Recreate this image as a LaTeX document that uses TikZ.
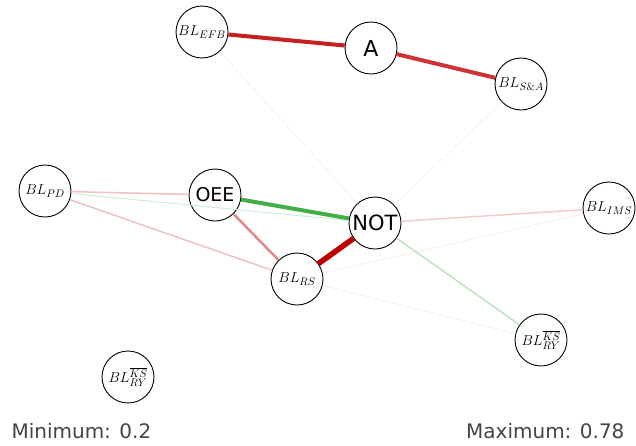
\documentclass[tikz,border=0pt]{standalone}
\usepackage{fontspec}
\newfontfamily\labfont{DejaVu Sans}
\DeclareMathSizes{13.5}{13.5}{10.8}{8.5}

\definecolor{redA}{RGB}{198,32,32}
\definecolor{redB}{RGB}{206,52,52}
\definecolor{redC}{RGB}{192,0,0}
\definecolor{redD}{RGB}{226,136,136}
\definecolor{redE}{RGB}{241,192,192}
\definecolor{redF}{RGB}{243,204,204}
\definecolor{redG}{RGB}{251,238,238}
\definecolor{grnA}{RGB}{68,176,68}
\definecolor{grnB}{RGB}{190,226,190}
\definecolor{grnC}{RGB}{212,236,212}
\definecolor{faint}{RGB}{244,244,244}
\definecolor{legend}{RGB}{68,68,68}

\tikzset{
	var/.style={circle,draw,line width=0.9pt,fill=white,minimum size=52pt,inner sep=0pt},
	bl/.style={var,font=\fontsize{13.5}{16}\selectfont},
	big/.style={var,font=\labfont\fontsize{#1}{#1}\selectfont},
	wt/.style={line width=#1}
}

\begin{document}
\begin{tikzpicture}[x=1pt,y=-1pt]

	\useasboundingbox (0,0) rectangle (636,445);

	% variables
	\node[bl] (efb) at (202,32) {$BL_{EFB}$};
	\node[big=22] (a) at (371,48) {A};
	\node[bl] (sa) at (521,84) {$BL_{S\&A}$};
	\node[bl] (pd) at (45,191) {$BL_{PD}$};
	\node[big=19] (oee) at (215,195) {OEE};
	\node[big=21] (not) at (375,223) {NOT};
	\node[bl] (ims) at (609,208) {$BL_{IMS}$};
	\node[bl] (rs) at (297,279) {$BL_{RS}$};
	\node[bl] (ksr) at (541,340) {$BL^{\overline{KS}}_{RY}$};
	\node[bl] (ksl) at (128,377) {$BL^{\overline{KS}}_{RY}$};

	% faint ones first
	\draw[faint,wt=1pt] (efb) -- (not);
	\draw[faint,wt=1pt] (sa) -- (not);
	\draw[redG,wt=1pt] (rs) -- (ims);
	\draw[redG,wt=1pt] (rs) -- (ksr);
	\draw[grnC,wt=1pt] (pd) -- (not);
	\draw[redE,wt=1.5pt] (pd) -- (oee);
	\draw[redE,wt=1.5pt] (pd) -- (rs);
	\draw[redF,wt=1.5pt] (not) -- (ims);
	\draw[grnB,wt=1.5pt] (not) -- (ksr);
	\draw[redD,wt=2.5pt] (oee) -- (rs);

	% strong edges
	\draw[redA,wt=4pt] (efb) -- (a);
	\draw[redB,wt=4pt] (a) -- (sa);
	\draw[grnA,wt=4pt] (oee) -- (not);
	\draw[redC,wt=5.5pt] (not) -- (rs);

	\node[anchor=base west,text=legend,font=\labfont\fontsize{20}{20}\selectfont] (mn) at (8,438) {Minimum: 0.2};
	\node[anchor=base east,text=legend,font=\labfont\fontsize{20}{20}\selectfont] (mx) at (628,438) {Maximum: 0.78};
\end{tikzpicture}
\end{document}
